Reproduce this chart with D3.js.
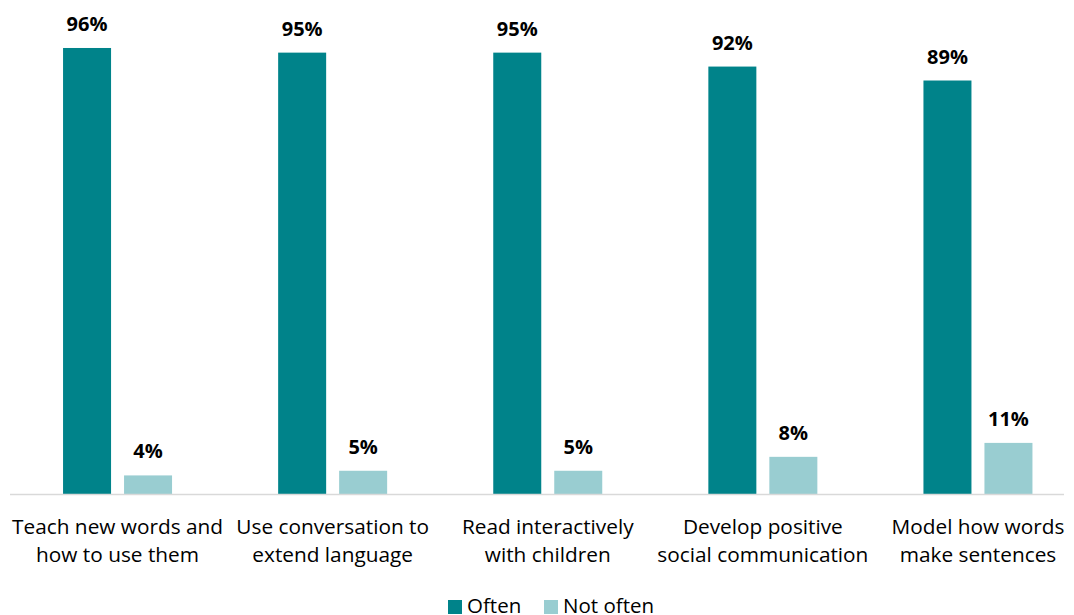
<!DOCTYPE html>
<html>
<head>
<meta charset="utf-8">
<script src="https://cdn.jsdelivr.net/npm/d3@7"></script>
<style>
  body { margin: 0; background: #fff; }
  text { font-family: "Open Sans", sans-serif; }
</style>
</head>
<body>
<div id="chart"></div>
<script>
const categories = [
  ["Teach new words and", "how to use them"],
  ["Use conversation to", "extend language"],
  ["Read interactively", "with children"],
  ["Develop positive", "social communication"],
  ["Model how words", "make sentences"]
];
const seriesNames = ["Often", "Not often"];
const often = [96, 95, 95, 92, 89];
const notOften = [4, 5, 5, 8, 11];
const colors = ["#00838a", "#99cdd1"];

const width = 1074, height = 615;
const baseY = 494;
const topY = 29.4;

const svg = d3.select("#chart").append("svg")
  .attr("width", width).attr("height", height);

const x0 = d3.scaleBand().domain(d3.range(categories.length)).range([10, 1085.5]);
const x1 = d3.scaleBand().domain([0, 1]).range([-54.5, 54.5]).paddingInner(0.213);
const y = d3.scaleLinear().domain([0, 100]).range([baseY, topY]);

const data = categories.map((c, i) => ({ i, vals: [often[i], notOften[i]] }));

const grp = svg.selectAll(".cat").data(data).enter().append("g")
  .attr("transform", d => `translate(${x0(d.i) + x0.bandwidth() / 2},0)`);

grp.selectAll("rect").data(d => d.vals.map((v, k) => ({ v, k }))).enter().append("rect")
  .attr("x", d => x1(d.k))
  .attr("y", d => y(d.v))
  .attr("width", x1.bandwidth())
  .attr("height", d => baseY - y(d.v))
  .attr("fill", d => colors[d.k]);

grp.selectAll(".lbl").data(d => d.vals.map((v, k) => ({ v, k }))).enter().append("text")
  .attr("x", d => x1(d.k) + x1.bandwidth() / 2)
  .attr("y", d => y(d.v) - 17)
  .attr("text-anchor", "middle")
  .attr("font-size", 20).attr("font-weight", "bold").attr("fill", "#000")
  .text(d => d.v + "%");

// baseline
svg.append("line").attr("x1", 10).attr("x2", 1064).attr("y1", baseY + 0.5).attr("y2", baseY + 0.5)
  .attr("stroke", "#d9d9d9").attr("stroke-width", 1.5);

// category labels
const lab = svg.selectAll(".cl").data(categories).enter().append("text")
  .attr("text-anchor", "middle")
  .attr("font-size", 20.8).attr("fill", "#000")
  .attr("transform", (d, i) => `translate(${x0(i) + x0.bandwidth() / 2},${baseY + 40})`);
lab.selectAll("tspan").data(d => d).enter().append("tspan")
  .attr("x", 0).attr("dy", (d, j) => j === 0 ? 0 : 28).text(d => d);

// legend
const leg = svg.append("g").attr("transform", "translate(448,599)");
const items = [{ n: seriesNames[0], c: colors[0], x: 0 }, { n: seriesNames[1], c: colors[1], x: 96 }];
items.forEach(it => {
  leg.append("rect").attr("x", it.x).attr("y", 1).attr("width", 14).attr("height", 14).attr("fill", it.c);
  leg.append("text").attr("x", it.x + 19).attr("y", 14).attr("font-size", 20.5).attr("fill", "#000").text(it.n);
});
</script>
</body>
</html>
